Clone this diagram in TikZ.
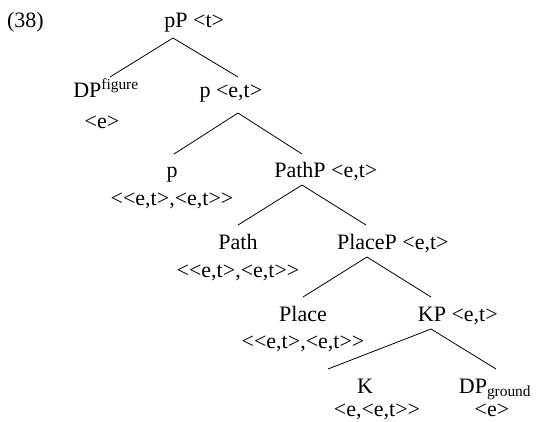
\documentclass[tikz,border=0pt]{standalone}
\usepackage{fontspec}
\setmainfont{Liberation Serif}[Ligatures=TeXOff]
\begin{document}
\begin{tikzpicture}[x=1pt,y=-1pt,
  lbl/.style={anchor=base, inner sep=0pt, outer sep=0pt, font=\fontsize{22}{26}\selectfont},
  typr/.style={lbl, anchor=base west},
  branch/.style={line width=0.8pt}]
\useasboundingbox (0,0) rectangle (536,421);
% example number
\node[typr] (num) at (7,27) {(38)};
% categories
\node[lbl] (pP) at (176,27) {pP};
\node[lbl] (DPf) at (106,97) {DP\textsuperscript{figure}};
\node[lbl] (pbar) at (205,97) {p};
\node[lbl] (p) at (172,177) {p};
\node[lbl] (PathP) at (300,177) {PathP};
\node[lbl] (Path) at (238,249) {Path};
\node[lbl] (PlaceP) at (367,249) {PlaceP};
\node[lbl] (Place) at (303,321) {Place};
\node[lbl] (KP) at (432,321) {KP};
\node[lbl] (K) at (365,393) {K};
\node[lbl] (DPg) at (495,393) {DP\textsubscript{ground}};
% semantic types beside the labels
\node[typr] (tpP) at ([xshift=5.5pt]pP.base east) {<t>};
\node[typr] (tpbar) at ([xshift=5.5pt]pbar.base east) {<e,t>};
\node[typr] (tPathP) at ([xshift=5.5pt]PathP.base east) {<e,t>};
\node[typr] (tPlaceP) at ([xshift=5.5pt]PlaceP.base east) {<e,t>};
\node[typr] (tKP) at ([xshift=5.5pt]KP.base east) {<e,t>};
% semantic types below the labels
\node[lbl] (tDPf) at (102,128) {<e>};
\node[lbl] (tp) at (172,205) {<<e,t>,<e,t>>};
\node[lbl] (tPath) at (238,277) {<<e,t>,<e,t>>};
\node[lbl] (tPlace) at (303,348) {<<e,t>,<e,t>>};
\node[lbl] (tK) at (377,416) {<e,<e,t>>};
\node[lbl] (tDPg) at (492,416) {<e>};
% branches
\draw[branch] ([xshift=-3pt,yshift=-11pt]pP.base) -- ([xshift=4pt,yshift=20pt]DPf.base);
\draw[branch] ([xshift=-3pt,yshift=-11pt]pP.base) -- ([xshift=33pt,yshift=20pt]pbar.base);
\draw[branch] ([xshift=33pt,yshift=-16pt]pbar.base) -- ([xshift=2pt,yshift=23pt]p.base);
\draw[branch] ([xshift=33pt,yshift=-16pt]pbar.base) -- ([xshift=2pt,yshift=23pt]PathP.base);
\draw[branch] ([xshift=2pt,yshift=-8pt]PathP.base) -- ([yshift=24pt]Path.base);
\draw[branch] ([xshift=2pt,yshift=-8pt]PathP.base) -- ([xshift=-1pt,yshift=24pt]PlaceP.base);
\draw[branch] ([yshift=-8pt]PlaceP.base) -- ([yshift=24pt]Place.base);
\draw[branch] ([yshift=-8pt]PlaceP.base) -- ([xshift=-1pt,yshift=24pt]KP.base);
\draw[branch] ([xshift=-1pt,yshift=-8pt]KP.base) -- ([xshift=-37pt,yshift=24pt]K.base);
\draw[branch] ([xshift=-1pt,yshift=-8pt]KP.base) -- ([xshift=1pt,yshift=24pt]DPg.base);
\end{tikzpicture}
\end{document}
